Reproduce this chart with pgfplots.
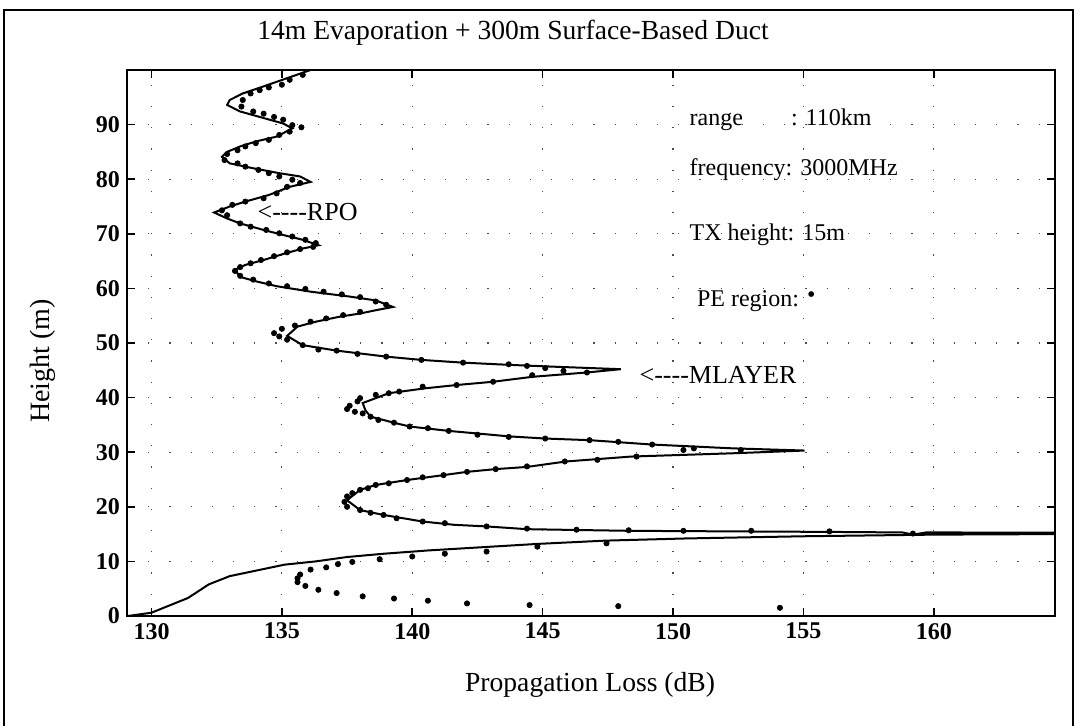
\documentclass[border=0pt]{standalone}
\usepackage{fontspec}
\setmainfont{Liberation Serif}
\usepackage{pgfplots}
\pgfplotsset{compat=1.18}
\begin{document}
\begin{tikzpicture}[font=\fontsize{12}{14}\selectfont]
\useasboundingbox (-63.5pt,-55pt) rectangle (475.5pt,308pt);
% scanned page frame
\draw[line width=1.2pt] (-61.5pt,-55pt) -- (-61.5pt,303pt) -- (473pt,303pt) -- (473pt,-55pt);
\begin{axis}[
    at={(0pt,0pt)}, anchor=south west,
    width=464pt, height=273pt, scale only axis,
    xmin=129.06, xmax=164.65,
    ymin=0, ymax=100,
    xtick={130,135,...,160},
    ytick={0,10,...,90},
    tick align=inside,
    major tick length=4pt,
    axis line style={line width=1pt},
    every tick/.style={line width=0.8pt, black},
    xmajorgrids, ymajorgrids,
    grid style={line width=0.6pt, dash pattern=on 0.6pt off 10pt, black!70},
    ticklabel style={font=\fontsize{12}{14}\selectfont\bfseries},
    /pgf/number format/assume math mode=true,
    title={14m Evaporation + 300m Surface-Based Duct},
    title style={font=\fontsize{13.8}{16}\selectfont, at={(axis description cs:0.416,1)}, anchor=base, yshift=9pt},
    xlabel={Propagation Loss (dB)},
    xlabel style={font=\fontsize{13.8}{16}\selectfont, at={(axis description cs:0.499,0)}, anchor=center, yshift=-34.5pt},
    ylabel={Height (m)},
    ylabel style={font=\fontsize{14}{16}\selectfont, at={(axis description cs:-0.0905,0.467)}, anchor=center},
    clip mode=individual,
]
% RPO reference solution
\addplot[line width=1pt, no marks] coordinates {
(136.1,100) (135.2,98.5) (134.3,97.0) (133.5,95.7) (133.0,94.5) (132.9,93.6)
(133.4,92.4) (134.3,91.2) (135.05,90.2) (135.4,89.3) (134.8,87.8) (134.0,86.9)
(133.4,86.0) (132.9,85.0) (132.7,84.1) (133.0,82.9) (133.9,82.0) (134.9,81.1)
(135.7,80.5) (136.1,79.5) (135.3,78.6) (134.5,77.1) (133.6,75.9) (133.0,75.0)
(132.4,73.9) (132.9,72.8) (133.4,71.9) (134.3,70.7) (135.2,69.6) (135.8,68.9)
(136.4,67.9) (135.8,67.3) (135.05,66.3) (134.3,65.2) (133.6,64.3) (133.2,63.4)
(133.4,62.1) (134.0,61.3) (134.8,60.4) (136.1,59.4) (137.6,58.5) (138.6,57.8)
(139.26,56.6) (138.6,56.0) (138.0,55.4) (137.2,54.8) (136.3,53.9) (135.6,53.0)
(135.2,51.3) (135.8,49.6) (137.1,48.6) (139.0,47.5) (140.35,46.9) (141.95,46.4)
(143.7,46.0) (145.2,45.7) (148.0,45.2) (146.7,44.6) (144.6,43.8) (143.1,42.9)
(141.7,42.3) (140.5,41.7) (139.1,40.8) (138.1,39.0) (138.2,37.7) (138.4,36.5)
(139.3,35.4) (139.9,34.7) (141.4,33.9) (143.7,32.9) (145.1,32.5) (146.8,32.2)
(149.2,31.4) (152.3,30.7) (155.05,30.3) (152.3,29.8) (148.4,29.2) (145.9,28.3)
(144.4,27.3) (143.2,26.9) (142.1,26.4) (141.2,25.8) (139.8,24.9) (138.6,24.0)
(138.0,23.1) (137.5,21.2) (138.0,19.4) (138.9,18.5) (140.4,17.3) (141.6,16.7)
(142.85,16.4) (144.4,15.9) (146.3,15.75) (148.3,15.6) (152,15.5) (156,15.4)
(158.8,15.3) (159.2,14.9) (159.7,15.3) (167,15.25) (167,15.05) (160,14.9)
(155,14.6) (150.5,14.2) (147.4,13.8) (144.8,13.2) (142.7,12.6) (140.6,12.0)
(138.9,11.4) (137.5,10.8) (136.3,10.0) (135.1,9.4) (134.2,8.5) (133.0,7.3)
(132.2,5.8) (131.4,3.3) (130.0,0.6) (129.1,0)
};
% PE region
\addplot[only marks, mark=*, mark size=1.3pt] coordinates {
(135.8,99.1) (135.3,98.2) (135.0,97.3) (134.5,96.8) (134.15,96.3) (133.8,95.7)
(133.5,94.5) (133.45,93.3) (133.9,92.4) (134.3,92.0) (134.7,91.4) (135.05,90.9)
(135.4,89.9) (135.75,89.5) (135.3,88.7) (134.9,88.1) (134.5,87.2) (134.0,86.6)
(133.6,86.0) (133.3,85.3) (132.9,84.6) (132.8,83.5) (133.3,82.9) (133.6,82.3)
(134.1,81.7) (134.5,81.1) (134.9,80.5) (135.4,79.9) (135.7,79.3) (135.2,78.6)
(134.8,77.4) (134.3,76.5) (133.6,75.9) (133.1,75.3) (132.7,74.3) (132.9,73.4)
(133.4,71.9) (133.8,71.3) (134.4,70.7) (134.9,70.1) (135.4,69.5) (135.9,68.9)
(136.3,68.3) (136.2,67.6) (135.7,67.2) (135.2,66.6) (134.7,65.9) (134.2,65.2)
(133.8,64.6) (133.4,63.9) (133.2,63.2) (133.4,62.3) (133.9,61.6) (134.5,60.9)
(135.2,60.4) (135.9,59.9) (136.6,59.4) (137.3,58.9) (138.0,58.4) (138.6,57.6)
(139.0,57.0) (138.0,55.7) (137.35,55.1) (136.7,54.5) (136.1,53.9) (135.5,53.2)
(135.0,52.6) (134.7,51.8) (134.9,51.2) (135.2,50.6) (135.8,49.6) (136.4,48.8)
(137.1,48.6) (137.9,48.0) (139.0,47.5) (140.35,46.9) (141.95,46.4) (143.7,46.1)
(144.4,45.8) (145.1,45.4) (145.8,44.9) (146.7,44.6) (144.6,44.1) (143.1,42.9)
(141.7,42.3) (140.4,42.0) (139.5,41.1) (139.1,40.8) (138.6,40.5) (138.0,39.9)
(137.9,39.3) (137.6,38.5) (137.5,37.9) (137.8,37.4) (138.1,37.1) (138.4,36.5)
(138.7,35.9) (139.3,35.4) (139.9,34.7) (140.6,34.4) (141.4,33.9) (142.5,33.2)
(143.7,32.8) (145.1,32.5) (146.8,32.2) (147.9,31.9) (149.2,31.4) (150.4,30.4)
(150.8,30.7) (152.6,30.4) (148.6,29.2) (147.1,28.6) (145.85,28.3) (144.4,27.4)
(143.2,26.9) (142.1,26.4) (141.2,25.8) (140.4,25.4) (139.8,24.9) (139.1,24.3)
(138.6,24.0) (138.3,23.4) (138.0,23.1) (137.7,22.5) (137.5,21.9) (137.4,20.9)
(137.5,20.0) (138.0,19.4) (138.4,18.9) (138.9,18.5) (139.4,17.9) (140.4,17.3)
(141.25,17.0) (142.85,16.4) (144.4,16.0) (146.3,15.8) (148.3,15.7) (150.4,15.6)
(153.0,15.6) (156.0,15.5) (159.2,15.1) (147.45,13.3) (144.8,12.7) (142.85,11.8)
(141.25,11.4) (140.0,10.9) (138.75,10.4) (137.7,9.9) (137.15,9.5) (136.7,8.9)
(136.1,8.5) (135.7,7.6) (135.6,6.9) (135.6,6.2) (135.9,5.5) (136.4,4.8)
(137.1,4.2) (138.1,3.6) (139.3,3.2) (140.6,2.8) (142.1,2.3) (144.5,2.0)
(147.9,1.8) (154.1,1.5)
};
\node[anchor=west, font=\fontsize{13}{15}\selectfont] at (axis cs:133.8,74) {<{-}{-}{-}{-}RPO};
\node[anchor=west, font=\fontsize{13}{15}\selectfont] at (axis cs:148.45,44.2) {<{-}{-}{-}{-}MLAYER};
\node[anchor=west] at (axis cs:150.37,90.8) {range\hspace{2em}: 110km};
\node[anchor=west] at (axis cs:150.37,81.7) {frequency: 3000MHz};
\node[anchor=west] at (axis cs:150.37,69.8) {TX height: 15m};
\node[anchor=west] at (axis cs:150.65,57.6) {PE region: \raisebox{2pt}{•}};
\end{axis}
\end{tikzpicture}
\end{document}
